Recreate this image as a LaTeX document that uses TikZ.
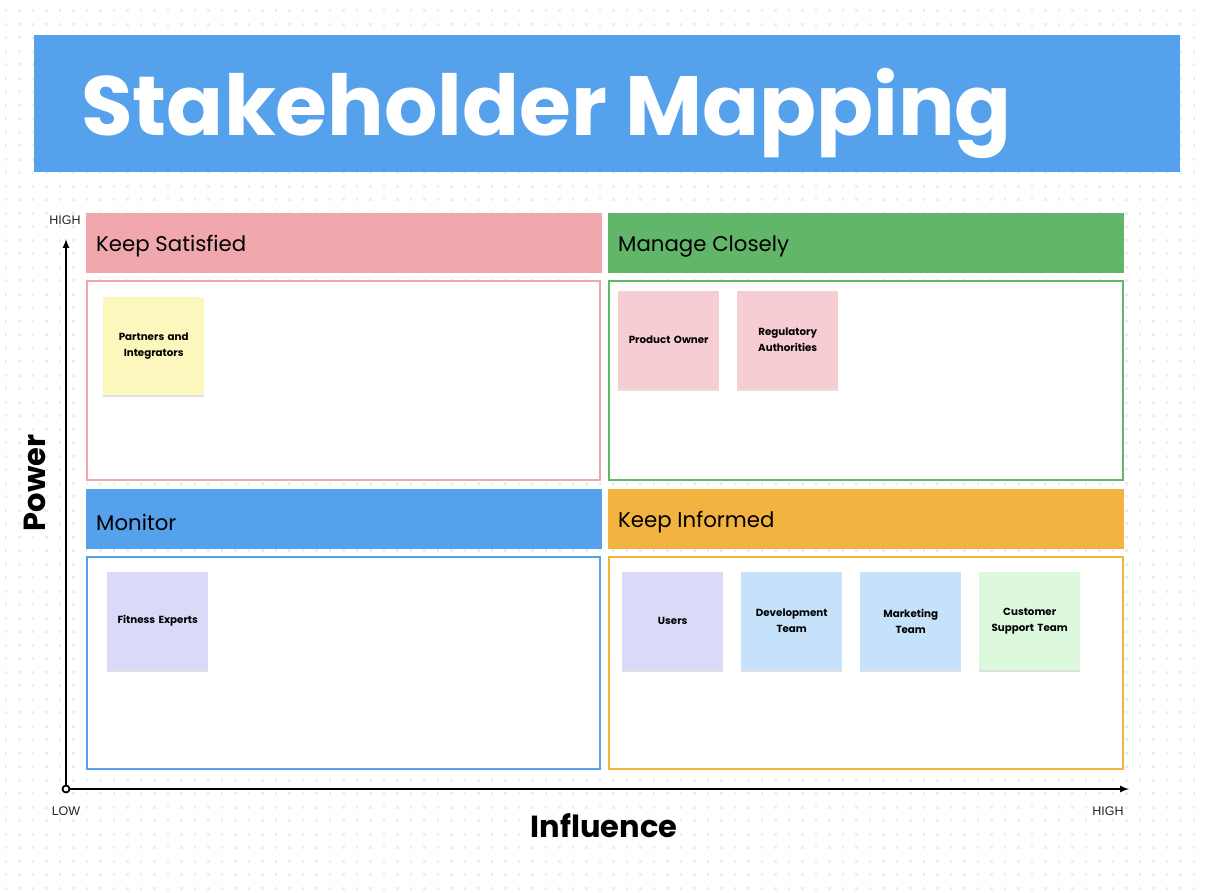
\documentclass[tikz,border=0pt]{standalone}
\usepackage{fontspec}
\setmainfont{Poppins}
\newfontfamily\axisfont{Liberation Sans}
\usetikzlibrary{calc,shadows}

\definecolor{titleblue}{HTML}{55A1EC}
\definecolor{satpink}{HTML}{F1A7AE}
\definecolor{mangreen}{HTML}{62B66A}
\definecolor{infoorange}{HTML}{F3B340}
\definecolor{dotgray}{HTML}{EEEEEE}
\definecolor{noteyellow}{HTML}{FCF7BD}
\definecolor{notepink}{HTML}{F6CDD3}
\definecolor{notelilac}{HTML}{D9DAF8}
\definecolor{noteblue}{HTML}{C6E2FA}
\definecolor{notegreen}{HTML}{DDF9DD}

\tikzset{
  header/.style={anchor=north west, minimum width=516pt, minimum height=60pt,
    inner sep=0pt},
  headtext/.style={anchor=west, inner sep=0pt, font=\fontsize{21.3}{25}\selectfont},
  area/.style={line width=2pt},
  note/.style={anchor=north west, minimum width=101pt, minimum height=98pt,
    inner sep=2pt, align=center, text width=95pt,
    font=\fontsize{10.3}{16}\selectfont\bfseries,
    drop shadow={shadow xshift=0pt, shadow yshift=-2pt, fill=black!12, opacity=1}},
  axis/.style={line width=2pt, -latex},
  axislabel/.style={text=black!85, font=\axisfont\fontsize{12.5}{14}\selectfont},
  axistitle/.style={font=\fontsize{30.5}{34}\selectfont\bfseries},
}

\begin{document}
\begin{tikzpicture}[x=1pt, y=-1pt]

% Page and dot grid
\useasboundingbox (0,0) rectangle (1206,892);
\fill[white] (0,0) rectangle (1206,892);
\foreach \i in {0,...,89}
  \foreach \j in {0,...,65}
    \fill[dotgray] ({6+13.5*\i-1.3},{10.7+13.5*\j-1.3}) rectangle ++(2.6,2.6);

% Title bar
\fill[titleblue] (34,35) rectangle (1180,172);
\node[anchor=base west, inner sep=0pt, text=white,
  font=\fontsize{84}{94}\selectfont\bfseries] (title) at (81,135) {Stakeholder Mapping};

% Quadrant headers
\node[header, fill=satpink] (hsat) at (86,213) {};
\node[header, fill=mangreen] (hman) at (608,213) {};
\node[header, fill=titleblue] (hmon) at (86,489) {};
\node[header, fill=infoorange] (hinf) at (608,489) {};
\node[headtext] at ($(hsat.west)+(10,3)$) {Keep Satisfied};
\node[headtext] at ($(hman.west)+(10,3)$) {Manage Closely};
\node[headtext] at ($(hmon.west)+(10,3)$) {Monitor};
\node[headtext] at ($(hinf.west)+(10,3)$) {Keep Informed};

% Quadrant areas
\draw[area, satpink, fill=white] (87,281) rectangle (600,480);
\draw[area, mangreen, fill=white] (609,281) rectangle (1123,480);
\draw[area, titleblue, fill=white] (87,557) rectangle (600,769);
\draw[area, infoorange, fill=white] (609,557) rectangle (1123,769);

% Sticky notes
\node[note, fill=noteyellow] (partners) at (103,297) {Partners and\\Integrators};
\node[note, fill=notepink] (owner) at (618,291) {Product Owner};
\node[note, fill=notepink] (regulators) at (737,291) {Regulatory\\Authorities};
\node[note, fill=notelilac] (experts) at (107,572) {Fitness Experts};
\node[note, fill=notelilac] (users) at (622,572) {Users};
\node[note, fill=noteblue] (devteam) at (741,572) {Development\\Team};
\node[note, fill=noteblue] (marketing) at (860,572) {Marketing\\Team};
\node[note, fill=notegreen] (support) at (979,572) {Customer\\Support Team};

% Axes
\coordinate (origin) at (66,789);
\coordinate (powertop) at (66,239);
\coordinate (influenceend) at (1129,789);
\draw[axis] (origin) -- (powertop);
\draw[axis] (origin) -- (influenceend);
\draw[line width=1.8pt, fill=white] (origin) circle (3.5);

% Axis labels
\node[axislabel] (powerhigh) at (65,220) {HIGH};
\node[axislabel] (low) at (66,811) {LOW};
\node[axislabel] (influencehigh) at (1108,811) {HIGH};
\node[axistitle, rotate=90] (power) at (35,483) {Power};
\node[axistitle] (influence) at (604,826) {Influence};

\end{tikzpicture}
\end{document}
